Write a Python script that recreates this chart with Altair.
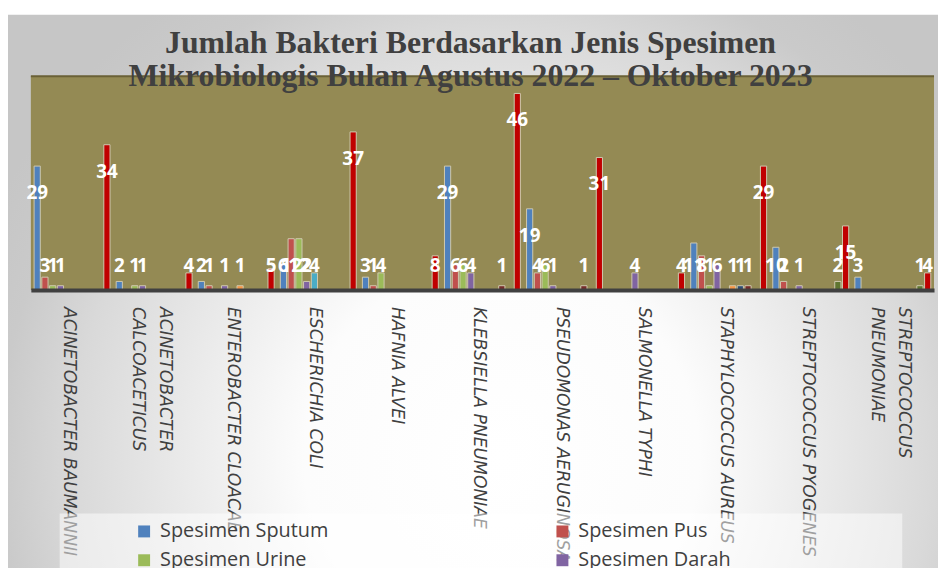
import altair as alt
import pandas as pd

# ---------------- data ----------------
categories = [
    "Acinetobacter baumannii", "Acinetobacter calcoaceticus", "Enterobacter cloacae",
    "Escherichia coli", "Hafnia alvei", "Klebsiella pneumoniae", "Pseudomonas aeruginosa",
    "Salmonella typhi", "Staphylococcus aureus", "Streptococcus pyogenes",
    "Streptococcus pneumoniae",
]
category_labels = [
    "ACINETOBACTER BAUMANNII", "ACINETOBACTER\nCALCOACETICUS", "ENTEROBACTER CLOACAE",
    "ESCHERICHIA COLI", "HAFNIA ALVEI", "KLEBSIELLA PNEUMONIAE", "PSEUDOMONAS AERUGINOSA",
    "SALMONELLA TYPHI", "STAPHYLOCOCCUS AUREUS", "STREPTOCOCCUS PYOGENES",
    "STREPTOCOCCUS\nPNEUMONIAE",
]

series_names = [
    "Spesimen Sputum", "Spesimen Pus", "Spesimen Urine", "Spesimen Darah",
    "Spesimen Lain 1", "Spesimen Lain 2", "Spesimen Lain 3", "Spesimen Lain 4",
    "Spesimen Lain 5", "Spesimen Lain 6",
]
series_colors = [
    "#4F81BD", "#C0504D", "#9BBB59", "#8064A2", "#4BACC6",
    "#F79646", "#2C4D75", "#772C2A", "#5F7530", "#C00000",
]

sputum = [29, 2, 2, 6, 3, 29, 19, 0, 11, 10, 3]
pus    = [3, 0, 1, 12, 1, 6, 4, 0, 8, 2, 0]
urine  = [1, 1, 0, 12, 4, 6, 6, 0, 1, 0, 0]
darah  = [1, 1, 1, 2, 0, 4, 1, 4, 6, 1, 0]
lain1  = [0, 0, 0, 4, 0, 0, 0, 0, 0, 0, 0]
lain2  = [0, 0, 1, 0, 0, 0, 0, 0, 1, 0, 0]
lain3  = [0, 0, 0, 0, 0, 0, 0, 0, 1, 0, 0]
lain4  = [0, 0, 0, 0, 0, 1, 1, 0, 1, 0, 0]
lain5  = [0, 0, 0, 0, 0, 0, 0, 0, 0, 2, 1]
lain6  = [34, 4, 5, 37, 8, 46, 31, 4, 29, 15, 4]

all_series = [sputum, pus, urine, darah, lain1, lain2, lain3, lain4, lain5, lain6]

rows = []
for name, vals in zip(series_names, all_series):
    for cat, v in zip(categories, vals):
        rows.append({"Bakteri": cat, "Seri": name, "Jumlah": v})
df = pd.DataFrame(rows)
df = df[df["Jumlah"] > 0]

df_cat = pd.DataFrame({"Bakteri": categories, "Label": category_labels})
df_cat1 = df_cat[~df_cat["Label"].str.contains("\n")]
df_cat2 = df_cat[df_cat["Label"].str.contains("\n")]
one = pd.DataFrame({"k": [0]})

W, H = 909, 215

# ---------------- scales / axes ----------------
x_scale = alt.Scale(domain=categories, paddingInner=0.056, paddingOuter=0.03)
xo_scale = alt.Scale(domain=series_names, paddingInner=0.2, paddingOuter=0.1)
y_scale = alt.Scale(domain=[0, 50], nice=False, zero=True)
x_axis = alt.Axis(title=None, labels=False, ticks=False, grid=False,
                  domainColor="#404040", domainWidth=4, zindex=1)

gradient = alt.RadialGradient(
    gradient="radial",
    stops=[
        alt.GradientStop(offset=0, color="#FFFFFF"),
        alt.GradientStop(offset=0.35, color="#FCFCFC"),
        alt.GradientStop(offset=0.76, color="#D9D9D9"),
        alt.GradientStop(offset=0.89, color="#CACACA"),
        alt.GradientStop(offset=1, color="#C6C6C6"),
    ],
    x1=0.53, y1=0.47, r1=0, x2=0.53, y2=0.47, r2=0.6,
)

bg = alt.Chart(one).mark_rect(fill=gradient).encode(
    x=alt.value(-24), x2=alt.value(915), y=alt.value(-62), y2=alt.value(885)
)
olive = alt.Chart(one).mark_rect(fill="#948A54").encode(
    x=alt.value(0), x2=alt.value(W), y=alt.value(0), y2=alt.value(H)
)
toprule = alt.Chart(one).mark_rule(color="#6A6136", strokeWidth=2).encode(
    x=alt.value(0), x2=alt.value(W), y=alt.value(0)
)

bars = alt.Chart(df).mark_bar(stroke="#CFC9AE", strokeWidth=1).encode(
    x=alt.X("Bakteri:N", scale=x_scale, axis=x_axis, sort=categories),
    xOffset=alt.XOffset("Seri:N", scale=xo_scale, sort=series_names),
    y=alt.Y("Jumlah:Q", scale=y_scale, axis=None),
    color=alt.Color(
        "Seri:N",
        scale=alt.Scale(domain=series_names, range=series_colors),
        legend=alt.Legend(
            title=None, orient="none", legendX=104, legendY=448,
            direction="horizontal", columns=2, columnPadding=225, rowPadding=9,
            values=series_names[:4], symbolType="square", symbolSize=144,
            symbolStrokeWidth=0, labelFont="Open Sans", labelFontSize=20,
            labelColor="#404040", labelOffset=6, labelLimit=400, zindex=2,
        ),
    ),
)

value_labels = alt.Chart(df).transform_calculate(
    pos="max(datum.Jumlah - 6.3, 5.5)"
).mark_text(
    font="Open Sans", fontSize=19, fontWeight="bold", color="white",
    align="center", baseline="middle",
).encode(
    x=alt.X("Bakteri:N", scale=x_scale, axis=x_axis, sort=categories),
    xOffset=alt.XOffset("Seri:N", scale=xo_scale, sort=series_names),
    y=alt.Y("pos:Q", scale=y_scale, axis=None),
    text=alt.Text("Jumlah:Q"),
)

cat_style = dict(
    angle=90, align="left", baseline="middle", font="DejaVu Sans",
    fontStyle="italic", fontSize=17.3, color="#404040", lineBreak="\n", lineHeight=27,
)
cat_text1 = alt.Chart(df_cat1).mark_text(dy=3, **cat_style).encode(
    x=alt.X("Bakteri:N", scale=x_scale, axis=x_axis, sort=categories),
    y=alt.value(H + 17),
    text=alt.Text("Label:N"),
)
cat_text2 = alt.Chart(df_cat2).mark_text(dy=-11, **cat_style).encode(
    x=alt.X("Bakteri:N", scale=x_scale, axis=x_axis, sort=categories),
    y=alt.value(H + 17),
    text=alt.Text("Label:N"),
)

legend_box = alt.Chart(one).mark_rect(fill="#FFFFFF", opacity=0.5).encode(
    x=alt.value(29), x2=alt.value(877), y=alt.value(440), y2=alt.value(520)
)

chart = alt.layer(
    bg, olive, toprule, bars, value_labels, cat_text1, cat_text2, legend_box
).properties(
    width=W,
    height=H,
    autosize=alt.AutoSizeParams(type="none"),
    padding={"left": 23, "top": 67, "right": 4, "bottom": 278},
    title=alt.TitleParams(
        text=["Jumlah Bakteri Berdasarkan Jenis Spesimen",
              "Mikrobiologis Bulan Agustus 2022 \u2013 Oktober 2023"],
        font="Liberation Serif", fontSize=32, fontWeight="bold", color="#404040",
        anchor="middle", dx=-12, offset=-111, baseline="bottom", lineHeight=34,
        zindex=2,
    ),
).configure(
    background="#FFFFFF"
).configure_view(
    stroke=None
)

chart.save("out.html", embed_options={"renderer": "svg", "actions": False})
